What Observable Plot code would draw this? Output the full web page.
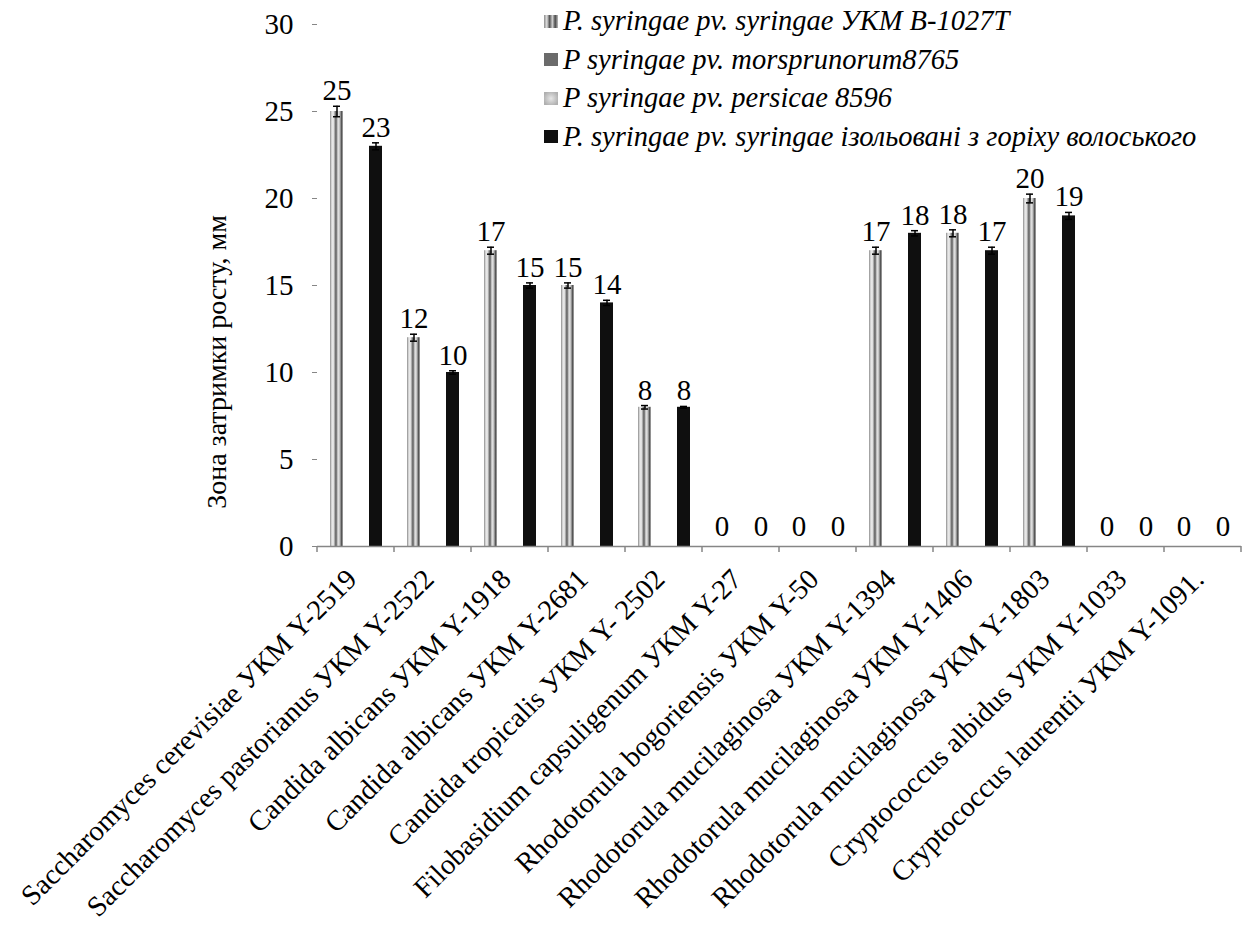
<!DOCTYPE html>
<html>
<head>
<meta charset="utf-8">
<script src="https://cdn.jsdelivr.net/npm/d3@7"></script>
<script src="https://cdn.jsdelivr.net/npm/@observablehq/plot@0.6"></script>
<style>
  html, body { margin: 0; padding: 0; background: #fff; }
  #wrap { position: relative; width: 1246px; height: 930px; font-family: "Liberation Serif", "Times New Roman", serif; }
  #legend { position: absolute; left: 544px; top: 2px; font-style: italic; font-size: 28.5px; color: #000; }
  #legend .row { display: flex; align-items: center; height: 38.5px; white-space: nowrap; }
  #legend .sw { width: 14px; height: 13px; margin-right: 5px; flex: none; }
  #ytitle { position: absolute; left: 217px; top: 362px; transform: translate(-50%, -50%) rotate(-90deg); white-space: nowrap; font-size: 28px; color: #000; }
</style>
</head>
<body>
<div id="wrap">
  <svg width="0" height="0" style="position:absolute">
    <defs>
      <linearGradient id="stripes" x1="0" x2="1" y1="0" y2="0">
        <stop offset="0" stop-color="#8c8c8c"/>
        <stop offset="0.12" stop-color="#d4d4d4"/>
        <stop offset="0.24" stop-color="#f4f4f4"/>
        <stop offset="0.36" stop-color="#a3a3a3"/>
        <stop offset="0.46" stop-color="#555555"/>
        <stop offset="0.56" stop-color="#b8b8b8"/>
        <stop offset="0.68" stop-color="#e8e8e8"/>
        <stop offset="0.8" stop-color="#999999"/>
        <stop offset="0.9" stop-color="#4a4a4a"/>
        <stop offset="1" stop-color="#bdbdbd"/>
      </linearGradient>
    </defs>
  </svg>
  <div id="chart"></div>
  <div id="legend"></div>
  <div id="ytitle">Зона затримки росту, мм</div>
</div>
<script>
// ---- data ----
const categories = [
  "Saccharomyces cerevisiae УКМ Y-2519",
  "Saccharomyces pastorianus УКМ Y-2522",
  "Candida albicans УКМ Y-1918",
  "Candida albicans УКМ Y-2681",
  "Candida tropicalis УКМ Y- 2502",
  "Filobasidium capsuligenum УКМ Y-27",
  "Rhodotorula bogoriensis УКМ Y-50",
  "Rhodotorula mucilaginosa УКМ Y-1394",
  "Rhodotorula mucilaginosa УКМ Y-1406",
  "Rhodotorula mucilaginosa УКМ Y-1803",
  "Cryptococcus albidus УКМ Y-1033",
  "Cryptococcus laurentii УКМ Y-1091."
];
const seriesNames = [
  "P. syringae pv. syringae УКМ B-1027T",
  "P syringae pv. morsprunorum8765",
  "P syringae pv. persicae 8596",
  "P. syringae pv. syringae ізольовані з горіху волоського"
];
const series1Values = [25, 12, 17, 15, 8, 0, 0, 17, 18, 20, 0, 0];
const series1Errors = [0.3, 0.2, 0.2, 0.15, 0.1, 0, 0, 0.2, 0.2, 0.25, 0, 0];
const series4Values = [23, 10, 15, 14, 8, 0, 0, 18, 17, 19, 0, 0];
const series4Errors = [0.2, 0.1, 0.15, 0.15, 0.05, 0, 0, 0.15, 0.2, 0.2, 0, 0];
const yTicks = [0, 5, 10, 15, 20, 25, 30];

// ---- styles ----
const seriesFill = {
  [seriesNames[0]]: "url(#stripes)",
  [seriesNames[1]]: "#6b6b6b",
  [seriesNames[2]]: "#c4c4c4",
  [seriesNames[3]]: "#0f0f0f"
};
const legendSwatch = [
  "linear-gradient(90deg,#8c8c8c,#e0e0e0 20%,#555 40%,#d0d0d0 60%,#4a4a4a 80%,#bdbdbd)",
  "#6b6b6b",
  "radial-gradient(circle,#e6e6e6 0%,#b0b0b0 80%)",
  "#0f0f0f"
];

const rows = [];
categories.forEach((c, i) => {
  rows.push({category: c, series: seriesNames[0], value: series1Values[i], err: series1Errors[i]});
  rows.push({category: c, series: seriesNames[3], value: series4Values[i], err: series4Errors[i]});
});
const errRows = rows.filter(d => d.err > 0);
const nonZero = rows.filter(d => d.value > 0);
const zeros = rows.filter(d => d.value === 0);

const FONT = "'Liberation Serif', 'Times New Roman', serif";
const AXIS_GRAY = "#868686";

const plot = Plot.plot({
  width: 1246,
  height: 930,
  marginTop: 24,
  marginBottom: 384,
  marginLeft: 314,
  marginRight: 2,
  style: {fontFamily: FONT, background: "transparent"},
  fx: {domain: categories, padding: 0, axis: null, label: null},
  x: {domain: seriesNames, paddingInner: 0, paddingOuter: 0.88, axis: null},
  y: {domain: [0, 30], axis: null},
  marks: [
    Plot.axisY({ticks: yTicks, tickSize: 5, tickPadding: 19, fontSize: 29, label: null,
                stroke: AXIS_GRAY, line: true, fill: "black"}),
    Plot.axisFx({anchor: "bottom", tickRotate: -45, tickSize: 0, tickPadding: 28, dx: -4, fontSize: 28.5, label: null, fill: "black"}),
    Plot.barY(rows, {fx: "category", x: "series", y: "value", fill: d => seriesFill[d.series]}),
    Plot.ruleY([0], {stroke: AXIS_GRAY, strokeWidth: 1.5}),
    Plot.ruleX(errRows, {fx: "category", x: "series", y1: d => d.value - d.err, y2: d => d.value + d.err, stroke: "black", strokeWidth: 1.5}),
    Plot.tickY(errRows, {fx: "category", x: "series", y: d => d.value + d.err, stroke: "black", strokeWidth: 1.5, insetLeft: 3, insetRight: 3}),
    Plot.tickY(errRows, {fx: "category", x: "series", y: d => d.value - d.err, stroke: "black", strokeWidth: 1.5, insetLeft: 3, insetRight: 3}),
    Plot.text(nonZero, {fx: "category", x: "series", y: d => d.value + d.err, text: d => String(d.value),
                     lineAnchor: "bottom", dy: -6, fontSize: 29, fill: "black"}),
    Plot.text(zeros, {fx: "category", x: "series", y: "value", text: d => String(d.value),
                     lineAnchor: "bottom", dy: -11, fontSize: 29, fill: "black"})
  ]
});
document.getElementById("chart").appendChild(plot);

// category-boundary tick marks below the x axis (Excel style), from Plot's own scales
const fxs = plot.scale("fx");
const ys = plot.scale("y");
const y0 = ys.apply(0);
const bounds = categories.map(c => fxs.apply(c)).concat([fxs.apply(categories[categories.length - 1]) + fxs.step]);
d3.select(plot).append("g")
  .attr("stroke", AXIS_GRAY).attr("stroke-width", 1.5)
  .selectAll("line").data(bounds).join("line")
  .attr("x1", d => d).attr("x2", d => d)
  .attr("y1", y0).attr("y2", y0 + 6);

// legend
const legend = d3.select("#legend");
seriesNames.forEach((name, i) => {
  const row = legend.append("div").attr("class", "row");
  row.append("div").attr("class", "sw").style("background", legendSwatch[i]);
  row.append("span").text(name);
});
</script>
</body>
</html>
